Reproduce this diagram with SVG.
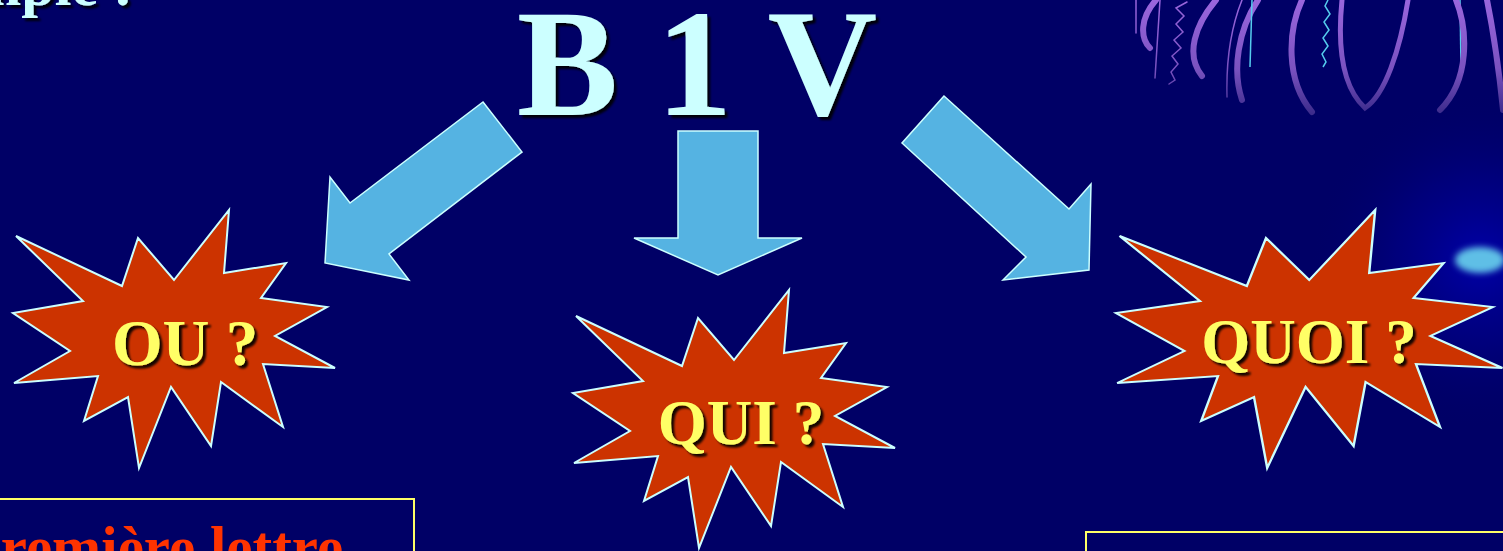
<svg xmlns="http://www.w3.org/2000/svg" width="1503" height="551" viewBox="0 0 1503 551">
  <style>
    .star { fill: #cc3300; stroke: #ccffff; stroke-width: 2; stroke-linejoin: miter; vector-effect: non-scaling-stroke; }
    .arrow { fill: #55b3e2; stroke: #ccffff; stroke-width: 1.5; stroke-linejoin: miter; }
    .lbl { font-family: "Liberation Serif", "Times New Roman", serif; font-weight: bold; fill: #ffff66; text-anchor: middle; filter: url(#shadow); }
    .title { font-family: "Liberation Serif", "Times New Roman", serif; font-weight: bold; fill: #ccffff; filter: url(#shadow); }
    .box { fill: none; stroke: #ffff66; stroke-width: 2; }
    .tent { fill: none; stroke: url(#tentFade); stroke-linecap: round; }
  </style>
  <defs>
    <filter id="shadow" x="-10%" y="-10%" width="130%" height="140%">
      <feDropShadow dx="3" dy="3" stdDeviation="1.2" flood-color="#000000" flood-opacity="0.9"/>
    </filter>
    <filter id="soft" x="-50%" y="-50%" width="200%" height="200%">
      <feGaussianBlur stdDeviation="3"/>
    </filter>
    <radialGradient id="glow" cx="1480" cy="260" r="170" gradientUnits="userSpaceOnUse">
      <stop offset="0" stop-color="#0000a8"/>
      <stop offset="0.5" stop-color="#000090" stop-opacity="0.5"/>
      <stop offset="1" stop-color="#000066" stop-opacity="0"/>
    </radialGradient>
    <linearGradient id="tentFade" x1="0" y1="0" x2="0" y2="115" gradientUnits="userSpaceOnUse">
      <stop offset="0" stop-color="#9a66dd"/>
      <stop offset="0.6" stop-color="#7a52c0"/>
      <stop offset="1" stop-color="#3a2a8a"/>
    </linearGradient>
  </defs>

  <!-- backdrop -->
  <rect width="1503" height="551" fill="#000066"/>
  <rect x="1300" y="90" width="203" height="340" fill="url(#glow)"/>
  <ellipse cx="1480" cy="260" rx="25" ry="13" fill="#5fbfe6" filter="url(#soft)"/>

  <!-- tentacle ornament, top right -->
  <g id="ornament">
    <path class="tent" stroke-width="1.5" d="M1136,0 L1136,33"/>
    <path class="tent" stroke-width="6" d="M1156,0 C1140,18 1140,38 1150,48"/>
    <path class="tent" stroke-width="1.5" d="M1160,0 L1155,78"/>
    <path class="tent" stroke-width="1.5" d="M1187,2 L1176,8 L1184,16 L1176,24 L1183,32 L1174,40 L1181,48 L1172,56 L1178,64 L1171,72 L1175,80 L1169,84"/>
    <path class="tent" stroke-width="6" d="M1216,0 C1195,25 1185,55 1202,76"/>
    <path class="tent" stroke-width="1.5" d="M1242,0 C1230,30 1226,60 1227,97"/>
    <path class="tent" stroke-width="6" d="M1258,0 C1238,30 1232,70 1242,100"/>
    <path fill="none" stroke="#55ccee" stroke-width="1.5" d="M1252,0 L1250,67"/>
    <path class="tent" stroke-width="6" d="M1302,0 C1288,30 1285,80 1312,112"/>
    <path fill="none" stroke="#55ccee" stroke-width="1.5" d="M1328,0 L1325,6 L1330,14 L1324,22 L1329,30 L1323,38 L1328,46 L1322,54 L1326,62 L1323,67"/>
    <path class="tent" stroke-width="5" d="M1342,0 C1338,40 1340,85 1365,108 C1385,95 1400,50 1408,0"/>
    <path fill="none" stroke="#55ccee" stroke-width="1.5" d="M1460,0 L1461,68"/>
    <path class="tent" stroke-width="6" d="M1456,0 C1468,30 1470,80 1440,110"/>
    <path class="tent" stroke-width="6" d="M1487,0 C1495,40 1500,80 1503,110"/>
  </g>

  <!-- heading text cut at the top edge -->
  <text class="title" x="133" y="5" font-size="60" text-anchor="end">Exemple :</text>

  <!-- title node -->
  <g id="title-b1v">
    <text class="title" x="697" y="115" font-size="152" text-anchor="middle">B 1 V</text>
  </g>

  <!-- connectors -->
  <g id="connectors">
    <polygon class="arrow" points="483,102 522,152 389,254 409,280 325,263 330,177 350,203"/>
    <polygon class="arrow" points="678,131 758,131 758,238 802,238 718,275 634,238 678,238"/>
    <polygon class="arrow" points="944,96 902,143 1026,257 1003,280 1089,270 1091,184 1069,209"/>
  </g>

  <!-- star nodes -->
  <defs>
    <path id="starShape" d="M16,236 L122,286 L138,238 L174,280 L229,210 L224,273 L286,263 L261,298 L327,307 L275,336 L335,368 L263,364 L283,427 L221,382 L211,446 L171,387 L139,468 L128,397 L84,421 L98,376 L14,383 L70,351 L13,313 L83,301 Z"/>
  </defs>

  <g id="node-ou">
    <use href="#starShape" class="star"/>
    <text class="lbl" x="185" y="365" font-size="65">OU ?</text>
  </g>

  <g id="node-qui">
    <use href="#starShape" class="star" transform="translate(560,80)"/>
    <text class="lbl" x="741" y="444" font-size="63">QUI ?</text>
  </g>

  <g id="node-quoi">
    <use href="#starShape" class="star" transform="translate(1116,0) scale(1.2,1) translate(-13,0)"/>
    <text class="lbl" x="1309" y="363" font-size="63">QUOI ?</text>
  </g>

  <!-- framed boxes at the bottom -->
  <g id="box-left">
    <rect class="box" x="-10" y="499" width="424" height="80"/>
    <text x="-32" y="567" font-family="Liberation Serif, Times New Roman, serif" font-weight="bold" font-size="59" fill="#ff3300">première lettre</text>
  </g>
  <g id="box-right">
    <rect class="box" x="1086" y="532" width="430" height="40"/>
  </g>
</svg>
